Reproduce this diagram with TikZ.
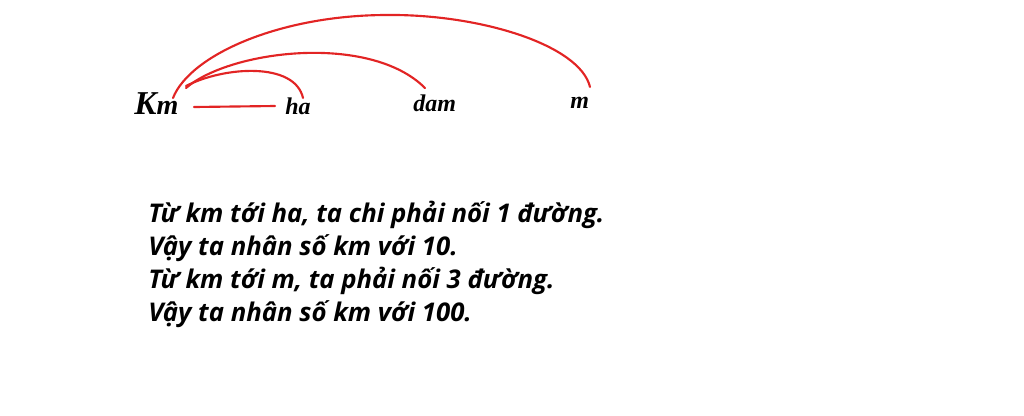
\documentclass[tikz,border=0pt]{standalone}
\usepackage{fontspec}
\setmainfont{Open Sans}
\newfontfamily\unitfont{Liberation Serif}
\usepackage{xcolor}
\definecolor{linkred}{RGB}{226,36,36}

\begin{document}
\begin{tikzpicture}[x=0.75pt,y=-0.75pt]
\tikzset{
  unit/.style={inner sep=0pt, anchor=base west, font=\unitfont\bfseries\itshape\fontsize{18}{18}\selectfont},
  link/.style={draw=linkred, line width=1.6pt, line cap=round},
  sentence/.style={inner sep=0pt, anchor=base west, font=\bfseries\itshape\fontsize{19.3}{23}\selectfont}
}
\useasboundingbox (0,0) rectangle (1024,415);

% Units
\node[unit] (km) at (134,114) {{\fontsize{25}{25}\selectfont K}{\fontsize{21}{21}\selectfont m}};
\node[unit] (ha) at (285,114) {ha};
\node[unit] (dam) at (413,111) {dam};
\node[unit] (m) at (570,108) {m};

% Links from km
\draw[link] ([shift={(60,-7)}]km.base west) -- ([shift={(-10,-8)}]ha.base west);
\draw[link] ([shift={(52,-28)}]km.base west) .. controls (225,66) and (295,62) .. ([shift={(18,-16)}]ha.base west);
\draw[link] ([shift={(52,-26)}]km.base west) .. controls (230,50) and (370,33) .. ([shift={(12,-23)}]dam.base west);
\draw[link] ([shift={(39,-16)}]km.base west) .. controls (190,55) and (280,15) .. (387,15)
  .. controls (480,14) and (580,45) .. ([shift={(20,-21)}]m.base west);

% Text
\node[sentence] (line1) at (148,222) {Từ km tới ha, ta chi phải nối 1 đường.};
\node[sentence] (line2) at (148,255) {Vậy ta nhân số km với 10.};
\node[sentence] (line3) at (148,288) {Từ km tới m, ta phải nối 3 đường.};
\node[sentence] (line4) at (148,321) {Vậy ta nhân số km với 100.};

\end{tikzpicture}
\end{document}
